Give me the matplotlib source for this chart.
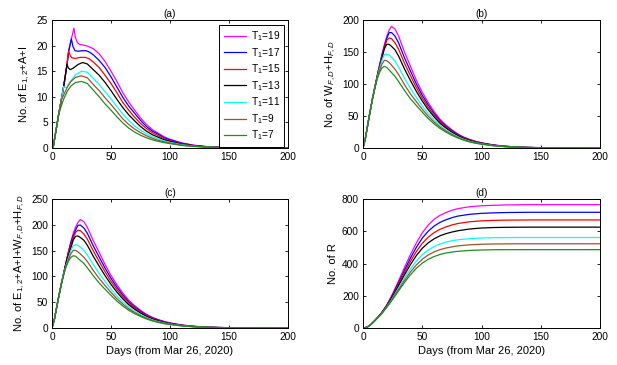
import matplotlib
matplotlib.use('Agg')
import matplotlib.pyplot as plt

plt.rcParams['font.family'] = ['Liberation Sans', 'DejaVu Sans']
plt.rcParams['mathtext.fontset'] = 'custom'
plt.rcParams['mathtext.rm'] = 'Liberation Sans'
plt.rcParams['mathtext.it'] = 'Liberation Sans:italic'
plt.rcParams['mathtext.bf'] = 'Liberation Sans:bold'

# ---------------- data ----------------
labels = ['T$_1$=19', 'T$_1$=17', 'T$_1$=15', 'T$_1$=13', 'T$_1$=11', 'T$_1$=9', 'T$_1$=7']
colors = ['#ff00ff', '#0000ff', '#ff0000', '#000000', '#00ffff', '#a0522d', '#228b22']

x_ticks = [0, 50, 100, 150, 200]

# panel (a): E_{1,2}+A+I
tail_days_a = [35, 40, 45, 50, 55, 60, 65, 70, 75, 80, 85, 90, 95, 100, 110, 120, 130, 140, 150, 175, 200]
a_days_t19 = [0, 0.9, 3, 5.6, 7.9, 9.9, 12.7, 14.1, 16.4, 18.6, 19.8, 21.5, 23.5, 27, 30]
a_vals_t19 = [0, 0, 2.9, 6.5, 9.4, 12.0, 16.3, 18.9, 21.3, 23.4, 21.6, 20.6, 20.2, 20.1, 19.9,
              19.4, 18.4, 16.9, 15.0, 13.0, 10.8, 9.0, 7.4, 5.9, 4.6, 3.6, 2.9, 2.2, 1.7, 1.0, 0.55, 0.3, 0.17, 0.1, 0.03, 0.01]
a_days_t17 = [0, 0.9, 3, 5.6, 7.9, 9.9, 12.7, 14.1, 16.4, 17.8, 19.5, 22, 26, 29, 32]
a_vals_t17 = [0, 0, 2.9, 6.5, 9.4, 12.0, 16.3, 18.9, 21.3, 19.8, 19.0, 18.9, 19.0, 19.0, 18.7,
              18.2, 17.1, 15.7, 13.9, 11.9, 9.9, 8.2, 6.8, 5.4, 4.2, 3.3, 2.7, 2.0, 1.6, 0.93, 0.51, 0.28, 0.16, 0.1, 0.03, 0.0]
a_days_t15 = [0, 0.9, 3, 5.6, 7.9, 9.9, 12.7, 14.1, 15.5, 17, 20, 24, 28, 31]
a_vals_t15 = [0, 0, 2.9, 6.5, 9.4, 12.0, 16.3, 18.9, 18.0, 17.6, 17.5, 17.7, 17.7, 17.5,
              16.8, 15.7, 14.2, 12.6, 10.8, 8.9, 7.4, 6.0, 4.8, 3.8, 3.0, 2.4, 1.8, 1.4, 0.84, 0.47, 0.26, 0.15, 0.09, 0.03, 0.0]
a_days_t13 = [0, 0.9, 3, 5.6, 7.9, 9.9, 12.7, 14, 15.5, 18, 22, 26, 30]
a_vals_t13 = [0, 0, 2.9, 6.5, 9.4, 12.0, 16.3, 15.6, 15.3, 15.6, 16.3, 16.7, 16.4,
              15.3, 14.2, 12.8, 11.2, 9.5, 7.9, 6.5, 5.3, 4.2, 3.3, 2.6, 2.1, 1.6, 1.3, 0.75, 0.43, 0.24, 0.14, 0.08, 0.025, 0.0]
a_days_t11 = [0, 0.9, 3, 5.6, 7.9, 9.9, 11, 12.5, 15, 20, 25, 30]
a_vals_t11 = [0, 0, 2.9, 6.5, 9.4, 12.0, 11.8, 11.9, 12.8, 14.3, 15.0, 14.8,
              13.6, 12.4, 11.0, 9.6, 8.1, 6.6, 5.4, 4.3, 3.5, 2.8, 2.2, 1.76, 1.38, 1.1, 0.65, 0.37, 0.21, 0.12, 0.07, 0.02, 0.0]
a_days_t9 = [0, 0.9, 3, 5.6, 7.9, 10, 13, 16, 20, 25, 30]
a_vals_t9 = [0, 0, 2.9, 6.5, 9.4, 10.4, 11.9, 13.0, 13.8, 14.1, 13.7,
             12.4, 11.2, 9.8, 8.5, 7.1, 5.7, 4.6, 3.7, 3.0, 2.4, 1.9, 1.5, 1.2, 0.97, 0.57, 0.33, 0.19, 0.11, 0.065, 0.02, 0.0]
a_days_t7 = [0, 0.9, 3, 5.6, 8, 10, 13, 16, 20, 25, 30]
a_vals_t7 = [0, 0, 2.9, 6.5, 8.3, 9.6, 11.1, 12.1, 12.8, 13.0, 12.6,
             11.3, 10.0, 8.6, 7.4, 6.1, 4.9, 3.9, 3.1, 2.5, 2.0, 1.6, 1.3, 1.05, 0.85, 0.5, 0.3, 0.17, 0.1, 0.06, 0.02, 0.0]

# panels (b) and (c): common day grid
days_bc = [0, 2, 5, 8, 10, 12, 14, 16, 18, 20, 22, 24, 27, 30, 35, 40, 45, 50, 55, 60, 65, 70, 75,
           80, 85, 90, 95, 100, 110, 120, 130, 140, 150, 175, 200]

# panel (b): W_{F,D}+H_{F,D}
b_t19 = [0, 15, 47, 77, 96, 113, 130, 146, 161, 174, 184, 190, 186, 175, 150, 128, 106, 87, 71, 57, 45, 36, 28.5,
         22, 17, 13.5, 10.5, 8.2, 4.8, 2.8, 1.6, 0.9, 0.5, 0.15, 0.05]
b_t17 = [0, 15, 47, 77, 95, 112.5, 129, 145, 159, 171, 180, 180.5, 174.9, 164.4, 141, 120.4, 100.1, 82.4, 67.3, 54.1,
         42.8, 34.3, 27.2, 21, 16.3, 12.9, 10.0, 7.9, 4.6, 2.7, 1.5, 0.87, 0.49, 0.14, 0.05]
b_t15 = [0, 15, 47, 77, 94, 112, 128, 143, 157, 168, 172, 171, 164.5, 154.4, 132.6, 113.2, 94.5, 78, 63.8, 51.4,
         40.8, 32.8, 26, 20.1, 15.6, 12.3, 9.6, 7.5, 4.4, 2.6, 1.5, 0.84, 0.47, 0.14, 0.04]
b_t13 = [0, 15, 47, 77, 94, 111, 126, 140, 155, 162, 162, 159, 153.4, 143.8, 123.6, 105.6, 88.6, 73.4, 60, 48.6,
         38.6, 31.1, 24.7, 19.2, 14.9, 11.7, 9.1, 7.2, 4.2, 2.4, 1.4, 0.8, 0.46, 0.13, 0.04]
b_t11 = [0, 15, 47, 77, 94.6, 110, 124, 137, 146, 147, 145.5, 142, 135.7, 126.7, 109.2, 93.3, 79.1, 65.9, 54, 44,
         35.1, 28.4, 22.6, 17.6, 13.7, 10.7, 8.4, 6.6, 3.9, 2.3, 1.3, 0.76, 0.43, 0.12, 0.04]
b_t9 = [0, 15, 47, 77, 94.3, 109, 121, 131, 137, 136.5, 133.5, 129.5, 123, 115, 99, 84.7, 72.4, 60.7, 49.8, 40.7,
        32.7, 26.5, 21.1, 16.6, 12.9, 10.0, 7.9, 6.2, 3.7, 2.1, 1.26, 0.73, 0.42, 0.11, 0.03]
b_t7 = [0, 15, 47, 77, 94, 108, 118, 125, 127.5, 126, 122, 118, 112, 104, 90, 77, 66.5, 56, 46, 37.8,
        30.5, 24.8, 19.8, 15.6, 12.2, 9.4, 7.4, 5.9, 3.5, 2.0, 1.2, 0.7, 0.4, 0.1, 0.03]

# panel (c): E_{1,2}+A+I+W_{F,D}+H_{F,D}
c_t19 = [0, 16.5, 52.7, 86.5, 108.1, 128.2, 148.7, 166.9, 183.8, 195.6, 204.5, 210.2, 206.1, 194.9, 169.4, 146.4,
         122.9, 102, 84, 67.8, 54, 43.4, 34.4, 26.6, 20.6, 16.4, 12.7, 9.9, 5.8, 3.35, 1.9, 1.07, 0.6, 0.18, 0.06]
c_t17 = [0, 16.5, 52.7, 86.5, 107.1, 127.7, 147.7, 165.9, 178.7, 190, 198.9, 199.5, 193.9, 183.3, 159.2, 137.5,
         115.8, 96.3, 79.2, 64, 51, 41.1, 32.6, 25.2, 19.6, 15.6, 12, 9.5, 5.53, 3.2, 1.78, 1.02, 0.59, 0.17, 0.05]
c_t15 = [0, 16.5, 52.7, 86.5, 106.1, 127.2, 146.7, 160.7, 174.5, 185.5, 189.6, 188.7, 182.2, 172, 149.4, 128.9,
         108.7, 90.6, 74.6, 60.3, 48.2, 38.8, 30.8, 23.9, 18.6, 14.7, 11.4, 8.9, 5.24, 3.07, 1.76, 0.99, 0.56, 0.17, 0.04]
c_t13 = [0, 16.5, 52.7, 86.5, 106.1, 126.2, 141.6, 155.3, 170.6, 177.8, 178.3, 175.5, 170.1, 160.2, 138.9, 119.8,
         101.4, 84.6, 69.5, 56.5, 45.1, 36.4, 28.9, 22.5, 17.5, 13.8, 10.7, 8.5, 4.95, 2.83, 1.64, 0.94, 0.54, 0.15, 0.05]
c_t11 = [0, 16.5, 52.7, 86.5, 106.5, 121.9, 136.3, 150.1, 159.8, 161.3, 160.2, 157, 150.7, 141.5, 122.8, 105.7,
         90.1, 75.5, 62.1, 50.6, 40.5, 32.7, 26.1, 20.4, 15.9, 12.5, 9.8, 7.7, 4.55, 2.67, 1.5, 0.88, 0.5, 0.14, 0.04]
c_t9 = [0, 16.5, 52.7, 86.4, 104.7, 120.5, 133.3, 144, 150.5, 150.3, 147.5, 143.6, 137, 128.7, 111.4, 95.9,
        82.2, 69.2, 56.9, 46.4, 37.3, 30.2, 24.1, 19, 14.8, 11.5, 9.1, 7.2, 4.27, 2.43, 1.45, 0.84, 0.48, 0.13, 0.03]
c_t7 = [0, 16.5, 53, 85, 104, 119, 129.5, 137, 140, 139, 135, 131, 125, 116.6, 101.3, 87,
        75, 63.4, 52.1, 42.7, 34.4, 27.9, 22.3, 17.6, 13.8, 10.7, 8.45, 6.75, 4.0, 2.3, 1.37, 0.8, 0.46, 0.12, 0.03]

# panel (d): R
days_d = [0, 3, 6, 10, 15, 20, 25, 30, 35, 40, 45, 50, 55, 60, 65, 70, 75, 80, 90, 100, 110, 120, 140, 160, 200]
d_t19 = [0, 4, 17, 46, 88, 142, 212, 292, 375, 455, 527, 590, 638, 674, 699, 716, 730, 740, 752, 758, 761, 763, 765, 765, 765]
d_t17 = [0, 4, 17, 46, 87, 139.5, 206, 281, 358, 433, 500, 557, 600, 632, 655, 671, 684, 694,
         705, 711, 714, 716, 717.6, 717.6, 717.6]
d_t15 = [0, 4, 17, 46, 86, 137, 200, 271, 343, 413, 474, 525, 563, 591, 612, 627, 639, 648,
         659, 664.5, 667.5, 669, 670.1, 670.1, 670.1]
d_t13 = [0, 4, 17, 46, 85, 134.5, 195, 262, 329, 393, 449, 494, 528, 553, 572, 585, 595, 603,
         614, 620, 623, 624.4, 625.5, 625.5, 625.5]
d_t11 = [0, 4, 17, 46, 83.6, 131, 187, 248, 309, 366, 415, 454, 483, 505, 521, 533, 541, 547,
         554, 558, 560, 560.8, 561.3, 561.3, 561.3]
d_t9 = [0, 4, 17, 46, 82.8, 129, 182, 239, 295, 347, 391, 426, 453, 472, 486, 496, 503, 509,
        516, 519.5, 521, 521.8, 522.3, 522.3, 522.3]
d_t7 = [0, 4, 17, 46, 82, 127, 177, 230, 282, 330, 370, 402, 426, 443, 456, 465, 471, 475.5,
        481, 484, 485.2, 485.7, 486, 486, 486]

# ---------------- figure ----------------
fig = plt.figure(figsize=(6.17, 3.65), dpi=100)
W, H = 617.0, 365.0


def make_ax(l, t, r, b):
    return fig.add_axes([l / W, (H - b) / H, (r - l) / W, (b - t) / H])


ax_a = make_ax(52, 20, 288, 148)
ax_b = make_ax(363, 20, 600, 148)
ax_c = make_ax(52, 199, 288, 328)
ax_d = make_ax(363, 199, 600, 328)

tick_fs = 7.3
lab_fs = 8.0
lw = 0.9

a_series = [(a_days_t19, a_vals_t19), (a_days_t17, a_vals_t17), (a_days_t15, a_vals_t15),
            (a_days_t13, a_vals_t13), (a_days_t11, a_vals_t11), (a_days_t9, a_vals_t9), (a_days_t7, a_vals_t7)]
for (dd, vv), col, lab in zip(a_series, colors, labels):
    ax_a.plot(list(dd) + tail_days_a, vv, color=col, lw=lw, label=lab)

for vals, col in zip([b_t19, b_t17, b_t15, b_t13, b_t11, b_t9, b_t7], colors):
    ax_b.plot(days_bc, vals, color=col, lw=lw)
for vals, col in zip([c_t19, c_t17, c_t15, c_t13, c_t11, c_t9, c_t7], colors):
    ax_c.plot(days_bc, vals, color=col, lw=lw)
for vals, col in zip([d_t19, d_t17, d_t15, d_t13, d_t11, d_t9, d_t7], colors):
    ax_d.plot(days_d, vals, color=col, lw=lw)

settings = [
    (ax_a, '(a)', 'No. of E$_{1,2}$+A+I', [0, 5, 10, 15, 20, 25], 25),
    (ax_b, '(b)', 'No. of W$_{F,D}$+H$_{F,D}$', [0, 50, 100, 150, 200], 200),
    (ax_c, '(c)', 'No. of E$_{1,2}$+A+I+W$_{F,D}$+H$_{F,D}$', [0, 50, 100, 150, 200, 250], 250),
    (ax_d, '(d)', 'No. of R', [0, 200, 400, 600, 800], 800),
]
for ax, title, ylab, yt, ymax in settings:
    ax.set_xlim(0, 200)
    ax.set_ylim(0, ymax)
    ax.set_xticks(x_ticks)
    ax.set_yticks(yt)
    ax.set_title(title, fontsize=tick_fs, pad=2.5)
    ax.set_ylabel(ylab, fontsize=lab_fs, labelpad=3)
    ax.tick_params(direction='in', length=2.5, width=0.6, labelsize=tick_fs,
                   top=True, right=True, pad=3)
    for sp in ax.spines.values():
        sp.set_linewidth(0.7)

ax_c.set_xlabel('Days (from Mar 26, 2020)', fontsize=lab_fs, labelpad=3)
ax_d.set_xlabel('Days (from Mar 26, 2020)', fontsize=lab_fs, labelpad=3)

leg = ax_a.legend(loc='upper right', bbox_to_anchor=(0.985, 0.96), fontsize=tick_fs,
                  frameon=True, fancybox=False, edgecolor='black', framealpha=1,
                  handlelength=2.2, labelspacing=0.27, borderpad=0.42, handletextpad=0.5,
                  borderaxespad=0)
leg.get_frame().set_linewidth(0.7)

fig.savefig('out.png', dpi=100)
